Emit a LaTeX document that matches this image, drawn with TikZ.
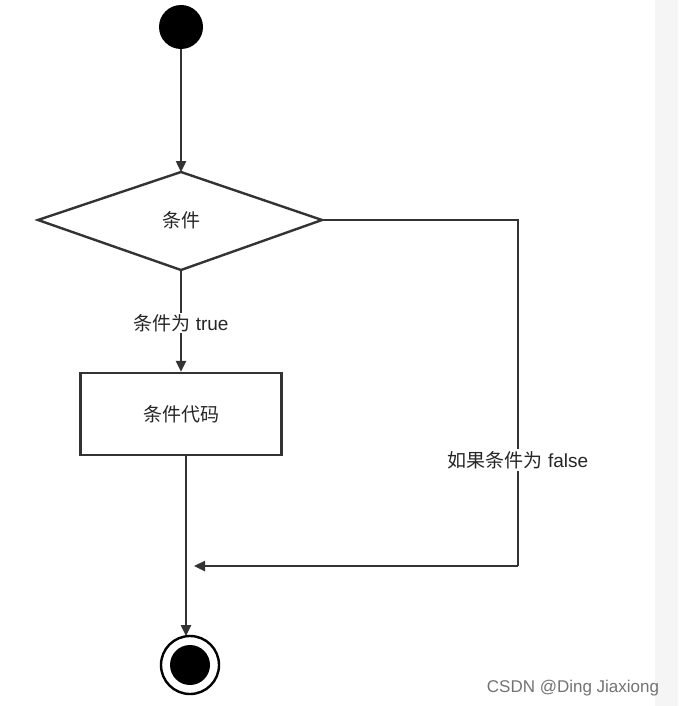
\documentclass[tikz,border=0pt]{standalone}
\usepackage{fontspec}
\setmainfont{Liberation Sans}
\newfontfamily\cjk{Noto Sans CJK SC}
\usetikzlibrary{arrows.meta}
\begin{document}
\begin{tikzpicture}[x=1pt,y=-1pt,
  ln/.style={draw=black!80,line width=2.4pt},
  arr/.style={ln,-{Triangle[length=11pt,width=10pt]}},
  lbl/.style={font=\fontsize{19}{22}\selectfont,text=black!85}]
\useasboundingbox (0,0) rectangle (678,706);
\fill[white] (0,0) rectangle (678,706);
\fill[black!4] (655,0) rectangle (678,706);
\node[circle,fill=black,minimum size=44pt,inner sep=0] (start) at (181,27) {};
\draw[ln,fill=white] (38,220) -- (181,172) -- (322,220) -- (181,270) -- cycle;
\node[lbl] (cond) at (181,220) {\cjk 条件};
\coordinate (dtop) at (181,172);
\coordinate (dbot) at (181,270);
\coordinate (dright) at (322,220);
\node[lbl,fill=white,inner sep=1pt] (tl) at (181,323) {{\cjk 条件为} true};
\node[ln,minimum width=201pt,minimum height=82pt,lbl] (code) at (181,414) {\cjk 条件代码};
\node[circle,draw=black,line width=2.4pt,minimum size=58pt,inner sep=0] (end) at (190,665) {};
\fill (end.center) circle (20pt);
\coordinate (c1) at (518,220);
\coordinate (c2) at (518,566);
\coordinate (c3) at (194,566);
\coordinate (cb) at (186,455);
\coordinate (ce) at (186,636);
\draw[arr] (start) -- (dtop);
\draw[ln] (dbot) -- (tl.north);
\draw[arr] (tl.south) -- (code.north);
\draw[arr] (cb) -- (ce);
\draw[ln] (dright) -- (c1) -- (c2);
\draw[arr] (c2) -- (c3);
\node[lbl,fill=white,inner sep=2pt] (fl) at (518,460) {{\cjk 如果条件为} false};
\node[font=\fontsize{17}{20}\selectfont,text=black!55] (wm) at (573,688) {CSDN @Ding Jiaxiong};
\end{tikzpicture}
\end{document}
